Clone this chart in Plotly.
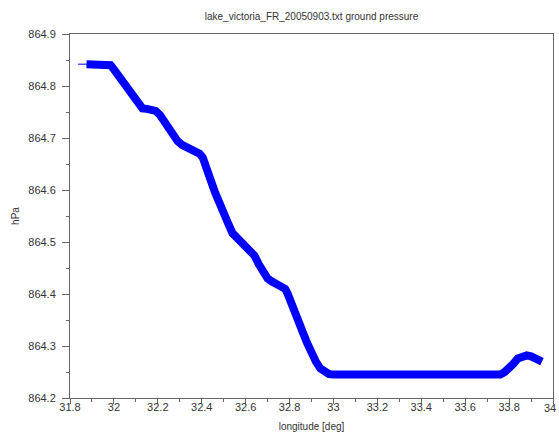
import plotly.graph_objects as go

title_text = "lake_victoria_FR_20050903.txt ground pressure"
x_label = "longitude [deg]"
y_label = "hPa"

lon = [31.875, 31.90, 31.93, 31.96, 31.985, 32.00, 32.03, 32.06, 32.09, 32.11,
       32.13, 32.15, 32.17, 32.19, 32.21, 32.23, 32.25, 32.27, 32.29, 32.31,
       32.33, 32.35, 32.37, 32.39, 32.405, 32.42, 32.44, 32.46, 32.48, 32.50,
       32.52, 32.54, 32.56, 32.58, 32.60, 32.62, 32.64, 32.66, 32.68, 32.70,
       32.72, 32.74, 32.76, 32.78, 32.79, 32.80, 32.82, 32.84, 32.86, 32.88,
       32.90, 32.92, 32.94, 32.96, 32.98, 33.0, 33.2, 33.4, 33.6, 33.76,
       33.78, 33.80, 33.82, 33.84, 33.86, 33.88, 33.90, 33.92, 33.94, 33.95]

pressure = [864.842, 864.842, 864.842, 864.842, 864.840, 864.832, 864.815, 864.796, 864.777, 864.764,
            864.757, 864.756, 864.755, 864.752, 864.744, 864.731, 864.716, 864.703, 864.694, 864.687,
            864.682, 864.679, 864.676, 864.670, 864.662, 864.640, 864.620, 864.596, 864.573, 864.552,
            864.536, 864.517, 864.508, 864.499, 864.493, 864.485, 864.474, 864.457, 864.441, 864.430,
            864.424, 864.419, 864.416, 864.410, 864.402, 864.390, 864.370, 864.349, 864.327, 864.306,
            864.286, 864.270, 864.257, 864.249, 864.246, 864.245, 864.245, 864.245, 864.245, 864.245,
            864.250, 864.257, 864.266, 864.276, 864.281, 864.282, 864.280, 864.277, 864.272, 864.270]

x_ticks = [31.8, 32.0, 32.2, 32.4, 32.6, 32.8, 33.0, 33.2, 33.4, 33.6, 33.8, 34.0]
x_tick_text = ["31.8", "32", "32.2", "32.4", "32.6", "32.8", "33", "33.2", "33.4", "33.6", "33.8", "34"]
y_ticks = [864.2, 864.3, 864.4, 864.5, 864.6, 864.7, 864.8, 864.9]
y_tick_text = ["864.2", "864.3", "864.4", "864.5", "864.6", "864.7", "864.8", "864.9"]

font_family = "Liberation Sans, Arial, sans-serif"
axis_color = "#666666"
text_color = "#333333"

fig = go.Figure()
fig.add_trace(go.Scatter(
    x=lon, y=pressure, mode="lines",
    line=dict(color="#0000ff", width=8),
    showlegend=False, hoverinfo="skip",
))
# thin cross arm at the first sample, as in the reference
fig.add_trace(go.Scatter(
    x=lon[:1], y=pressure[:1], mode="markers",
    marker=dict(symbol="line-ew", size=12, line=dict(color="#0000ff", width=1)),
    showlegend=False, hoverinfo="skip",
))

common_axis = dict(
    showgrid=False, zeroline=False, showline=True, mirror=True,
    linecolor=axis_color, linewidth=1,
    ticks="outside", tickwidth=1, tickcolor=axis_color,
    tickfont=dict(family=font_family, size=11, color=text_color),
)

# last x tick label is drawn as an annotation so it stays inside the page
shown_x_text = x_tick_text[:-1] + [""]

fig.update_xaxes(
    range=[31.8, 34.0], tickvals=x_ticks, ticktext=shown_x_text,
    ticklen=5, ticklabelstandoff=-6,
    minor=dict(dtick=0.1, ticks="outside", ticklen=3, tickcolor=axis_color, tickwidth=1),
    title=dict(text=x_label, font=dict(family=font_family, size=10, color=text_color), standoff=10),
    **common_axis,
)
fig.update_yaxes(
    range=[864.2, 864.9], tickvals=y_ticks, ticktext=y_tick_text,
    ticklen=7, ticklabelstandoff=4,
    minor=dict(dtick=0.05, ticks="outside", ticklen=3, tickcolor=axis_color, tickwidth=1),
    title=dict(text=y_label, font=dict(family=font_family, size=10, color=text_color), standoff=6),
    **common_axis,
)

fig.add_annotation(
    x=1, xref="paper", y=0, yref="paper",
    text=x_tick_text[-1], showarrow=False,
    xanchor="right", yanchor="middle", xshift=5, yshift=-10,
    font=dict(family=font_family, size=11, color=text_color),
)

fig.update_layout(
    width=559, height=441,
    margin=dict(l=70, r=6, t=34, b=43),
    paper_bgcolor="white", plot_bgcolor="white",
    hovermode=False,
    title=dict(text=title_text, x=0.5, xref="paper", y=1 - 16 / 441, yref="container",
               yanchor="middle", xanchor="center",
               font=dict(family=font_family, size=10, color=text_color)),
)

fig.write_html("out.html",
               config={"displayModeBar": False, "staticPlot": True},
               post_script="document.body.style.margin='0px';document.body.style.padding='0px';")
